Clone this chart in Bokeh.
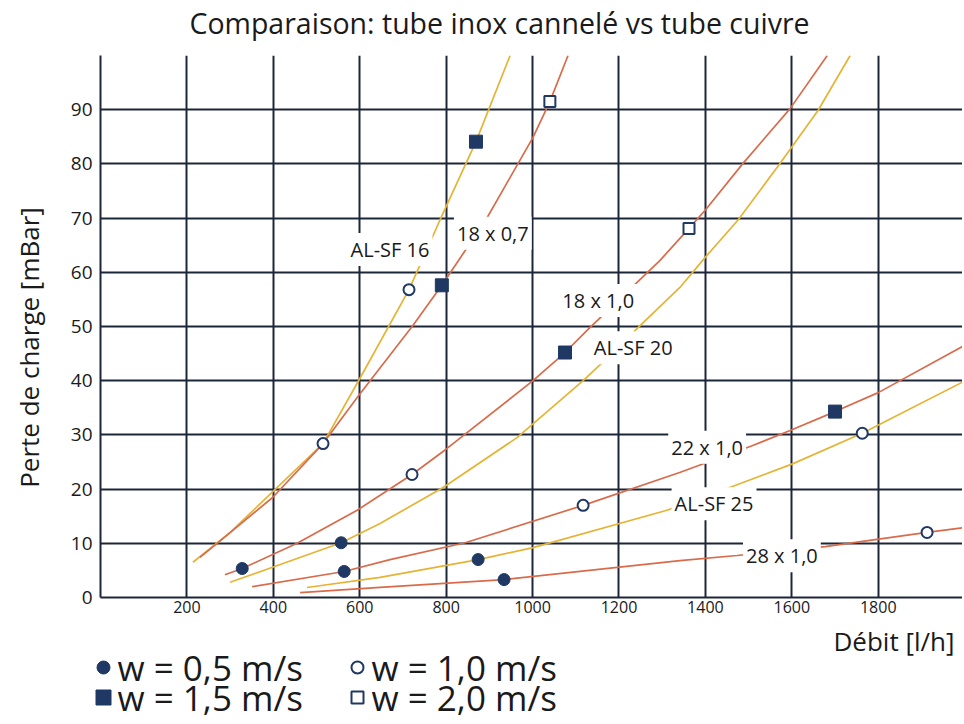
from bokeh.plotting import figure
from bokeh.models import Range1d, FixedTicker
from bokeh.layouts import column, row
from bokeh.core.properties import value
from bokeh.embed import file_html
from bokeh.resources import INLINE
import math

# ---------------- data ----------------
# curves: x = Débit [l/h], y = Perte de charge [mBar]
alsf16_x = [214, 300, 409, 515, 596, 714, 786, 869, 948]
alsf16_y = [6.5, 12.0, 20.3, 28.4, 39.8, 56.8, 69.7, 84.1, 100]

cu18x07_x = [230, 270, 399, 515, 598, 723, 790, 892, 1001, 1040, 1082]
cu18x07_y = [7.4, 10.0, 18.5, 28.4, 37.3, 50.2, 57.6, 69.7, 84.9, 91.5, 100]

cu18x10_x = [288, 328, 455, 594, 721, 802, 1001, 1075, 1126, 1295, 1362, 1399, 1487, 1596, 1682]
cu18x10_y = [4.2, 5.35, 10.0, 16.1, 22.7, 27.5, 40.0, 45.2, 49.3, 62.2, 68.1, 71.4, 80.1, 90.2, 100]

alsf20_x = [300, 557, 647, 793, 964, 1117, 1172, 1244, 1341, 1399, 1476, 1573, 1661, 1735]
alsf20_y = [2.8, 10.1, 13.65, 20.3, 29.5, 40.0, 44.1, 49.8, 57.2, 62.7, 69.7, 80.1, 89.9, 100]

cu22x10_x = [351, 564, 670, 844, 1117, 1342, 1508, 1596, 1700, 1800, 1999]
cu22x10_y = [2.0, 4.8, 7.0, 10.1, 17.0, 23.1, 28.0, 30.8, 34.3, 37.8, 46.5]

alsf25_x = [478, 647, 874, 1001, 1311, 1450, 1603, 1763, 1999]
alsf25_y = [1.85, 3.7, 7.0, 9.2, 16.1, 20.1, 24.7, 30.3, 39.9]

cu28x10_x = [462, 647, 934, 1341, 1473, 1677, 1913, 1999]
cu28x10_y = [0.9, 1.85, 3.3, 6.8, 7.75, 9.4, 12.0, 12.9]

# velocity markers
w05_x = [328, 557, 564, 874, 934]
w05_y = [5.35, 10.1, 4.8, 7.0, 3.3]
w10_x = [515, 714, 721, 1117, 1763, 1913]
w10_y = [28.4, 56.8, 22.7, 17.0, 30.3, 12.0]
w15_x = [869, 790, 1075, 1700]
w15_y = [84.1, 57.6, 45.2, 34.3]
w20_x = [1040, 1362]
w20_y = [91.5, 68.1]

# curve name labels
curve_labels = ["AL-SF 16", "18 x 0,7", "18 x 1,0", "AL-SF 20", "22 x 1,0", "AL-SF 25", "28 x 1,0"]
curve_label_x = [670, 908, 1152, 1233, 1404, 1420, 1577]
curve_label_y = [64.2, 67.2, 54.8, 46.1, 27.7, 17.3, 7.7]

# axes
x_ticks = [200, 400, 600, 800, 1000, 1200, 1400, 1600, 1800]
x_grid = [0] + x_ticks
y_ticks = [0, 10, 20, 30, 40, 50, 60, 70, 80, 90]
y_grid = y_ticks + [100]

legend_labels = ["w = 0,5 m/s", "w = 1,0 m/s", "w = 1,5 m/s", "w = 2,0 m/s"]
legend_markers = ["circle", "circle", "square", "square"]

title_text = "Comparaison: tube inox cannelé vs tube cuivre"
x_label = "Débit [l/h]"
y_label = "Perte de charge [mBar]"

# ---------------- styling / layout ----------------
FONT = "Open Sans"
GRID = "#1c2639"
RED = "#d96b4b"
YEL = "#e6b334"
NAVY = "#1f3864"
TXT = "#1a1a1a"

YSTRIP_W = 58       # strip holding the vertical axis title
LEFT = 100          # page x of the plotting frame
FW = 862            # frame width
TOP_H = 55          # title strip height
FH = 542            # frame height
BOT = 25            # tick label band
LEG_H = 100         # legend strip height
X_END = 1995
PAGE_R = LEFT + FW
P_H = FH + BOT


def strip(w, h, x0, y0):
    s = figure(width=w, height=h, x_range=Range1d(x0, x0 + w), y_range=Range1d(y0 + h, y0),
               output_backend="svg", toolbar_location=None, x_axis_type=None, y_axis_type=None,
               min_border=0, frame_align=False)
    s.outline_line_color = None
    s.grid.visible = False
    return s


# ---------------- title strip ----------------
t = strip(PAGE_R, TOP_H, 0, 0)
t.text(x=[499], y=[22], text=[title_text], text_align="center", text_baseline="middle",
       text_font=value(FONT), text_font_size="28.5px", text_color=TXT)

# ---------------- y-axis title strip ----------------
ys = strip(YSTRIP_W, P_H, 0, TOP_H)
ys.text(x=[28], y=[347], text=[y_label], angle=math.pi / 2, text_align="center",
        text_baseline="middle", text_font=value(FONT), text_font_size="26px", text_color=TXT)

# ---------------- main chart ----------------
p = figure(frame_width=FW, frame_height=FH,
           x_range=Range1d(0, X_END), y_range=Range1d(0, 100),
           output_backend="svg", toolbar_location=None,
           min_border_left=LEFT - YSTRIP_W, min_border_right=0, min_border_top=0, min_border_bottom=BOT)
p.outline_line_color = None

p.xaxis.ticker = FixedTicker(ticks=x_ticks)
p.yaxis.ticker = FixedTicker(ticks=y_ticks)
p.xgrid.ticker = FixedTicker(ticks=x_grid)
p.ygrid.ticker = FixedTicker(ticks=y_grid)
for g in (p.xgrid, p.ygrid):
    g.grid_line_color = GRID
    g.grid_line_width = 2
    g.grid_line_alpha = 1.0
for ax in (p.xaxis, p.yaxis):
    ax.axis_line_color = GRID
    ax.axis_line_width = 2
    ax.major_tick_line_color = None
    ax.minor_tick_line_color = None
    ax.major_tick_out = 0
    ax.major_tick_in = 0
    ax.minor_tick_out = 0
    ax.minor_tick_in = 0
    ax.major_label_text_font = FONT
    ax.major_label_text_color = TXT
p.xaxis.major_label_text_font_size = "16px"
p.xaxis.major_label_standoff = 3
p.yaxis.major_label_text_font_size = "19px"
p.yaxis.major_label_standoff = 8

curves = [
    (alsf16_x, alsf16_y, YEL),
    (cu18x07_x, cu18x07_y, RED),
    (cu18x10_x, cu18x10_y, RED),
    (alsf20_x, alsf20_y, YEL),
    (cu22x10_x, cu22x10_y, RED),
    (alsf25_x, alsf25_y, YEL),
    (cu28x10_x, cu28x10_y, RED),
]
for cx, cy, col in curves:
    p.line(cx, cy, line_color=col, line_width=1.7)

p.text(x=curve_label_x, y=curve_label_y, text=curve_labels,
       text_align="center", text_baseline="middle",
       text_font=value(FONT), text_font_size="20px", text_color=TXT,
       background_fill_color="white", padding=3)

p.scatter(w05_x, w05_y, marker="circle", size=12, fill_color=NAVY, line_color=NAVY)
p.scatter(w10_x, w10_y, marker="circle", size=11, fill_color="white", line_color=NAVY, line_width=2)
p.scatter(w15_x, w15_y, marker="square", size=13, fill_color=NAVY, line_color=NAVY)
p.scatter(w20_x, w20_y, marker="square", size=11, fill_color="white", line_color=NAVY, line_width=2)

# ---------------- legend / x label strip ----------------
q = strip(PAGE_R, LEG_H, 0, TOP_H + P_H)
q.text(x=[954], y=[640], text=[x_label], text_align="right", text_baseline="middle",
       text_font=value(FONT), text_font_size="26px", text_color=TXT)

leg_x = [103, 357, 103, 357]
leg_y = [667, 667, 697, 697]
q.scatter(leg_x, leg_y, marker=legend_markers, size=[13, 12, 15, 12],
          fill_color=[NAVY, "white", NAVY, "white"], line_color=NAVY, line_width=[1, 2, 1, 2])
q.text(x=[x + 14 for x in leg_x], y=leg_y, text=legend_labels,
       text_baseline="middle", text_font=value(FONT), text_font_size="35px", text_color=TXT)

layout = column(t, row(ys, p, spacing=0), q, spacing=0)
open("out.html", "w").write(file_html(layout, INLINE))
